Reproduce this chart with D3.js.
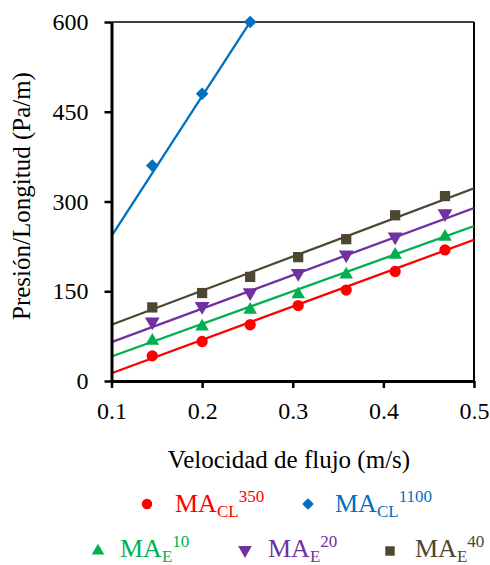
<!DOCTYPE html>
<html><head><meta charset="utf-8">
<script src="https://cdn.jsdelivr.net/npm/d3@7"></script>
<style>body{margin:0;background:#fff}svg{display:block}</style>
</head><body><svg id="c" width="490" height="565"></svg>
<script>
// ---- data ----
const velocity = [0.145, 0.2, 0.253, 0.306, 0.359, 0.413, 0.468];
const seriesNames = ["MA_CL^350", "MA_E^10", "MA_E^20", "MA_E^40", "MA_CL^1100"];
const red350 = [42, 66, 94, 126, 152, 183, 219];
const green10 = [67, 91, 119, 145, 178, 211, 241];
const purple20 = [99, 125, 148, 180, 211, 241, 280];
const brown40 = [123, 147, 174, 207, 237, 277, 309];
const blue1100 = [360, 480, 600];
// fitted trend lines: value at x=0.1 and at x=0.5
const fitAt01 = [13, 41, 65, 94, 242];
const fitAt05 = [236, 259, 289, 322, 1178];
const xTicks = [0.1, 0.2, 0.3, 0.4, 0.5];
const yTicks = [0, 150, 300, 450, 600];

const colors = ["#ff0000", "#00b050", "#7030a0", "#4d4630", "#0070c0"];
const shapes = ["circle", "up", "down", "square", "diamond"];
const values = [red350, green10, purple20, brown40, blue1100];
const SERIF = '"Liberation Serif", "Times New Roman", Tinos, serif';

const svg = d3.select("#c");
const L = 111.5, R = 474, T = 22, B = 381;
const x = d3.scaleLinear().domain([0.1, 0.5]).range([L, R]);
const y = d3.scaleLinear().domain([0, 600]).range([B, T]);

svg.append("defs").append("clipPath").attr("id", "clip")
  .append("rect").attr("x", L).attr("y", T).attr("width", R - L).attr("height", B - T);

// frame top/right
svg.append("line").attr("x1", L).attr("x2", R).attr("y1", T).attr("y2", T).attr("stroke", "#000").attr("stroke-width", 1.6);
svg.append("line").attr("x1", R).attr("x2", R).attr("y1", T).attr("y2", B).attr("stroke", "#000").attr("stroke-width", 2);

function sym(shape, size) {
  if (shape === "circle") return d3.symbol(d3.symbolCircle, size)();
  if (shape === "square") return d3.symbol(d3.symbolSquare, size)();
  if (shape === "diamond") return d3.symbol(d3.symbolSquare, size)();
  return d3.symbol(d3.symbolTriangle, size)();
}
function rot(shape) { return shape === "diamond" ? 45 : shape === "down" ? 180 : 0; }
const sizes = { circle: 100, up: 80, down: 95, square: 105, diamond: 80 };

const plot = svg.append("g").attr("clip-path", "url(#clip)");
values.forEach((vals, i) => {
  const line = d3.line().x(d => x(d[0])).y(d => y(d[1]));
  plot.append("path").datum([[0.1, fitAt01[i]], [0.5, fitAt05[i]]])
    .attr("d", line).attr("fill", "none").attr("stroke", colors[i]).attr("stroke-width", 2.3);
});
values.forEach((vals, i) => {
  svg.append("g").selectAll("path").data(vals).join("path")
    .attr("d", sym(shapes[i], sizes[shapes[i]]))
    .attr("transform", (d, j) => `translate(${x(velocity[j])},${y(d)}) rotate(${rot(shapes[i])})`)
    .attr("fill", colors[i]);
});

// axes
const ya = svg.append("g").attr("transform", `translate(${L},0)`)
  .call(d3.axisLeft(y).tickValues(yTicks).tickSize(7).tickSizeOuter(0).tickPadding(16).tickFormat(d3.format("d")));
const xa = svg.append("g").attr("transform", `translate(0,${B})`)
  .call(d3.axisBottom(x).tickValues(xTicks).tickSize(7).tickSizeOuter(0).tickPadding(14).tickFormat(d3.format(".1f")));
[ya, xa].forEach(a => {
  a.attr("font-family", null);
  a.select(".domain").attr("stroke-width", 3);
  a.selectAll(".tick line").attr("stroke-width", 2.5);
  a.selectAll(".tick text").attr("font-size", 24).style("font-family", SERIF).attr("fill", "#000");
});

svg.append("text").attr("x", 289).attr("y", 468).attr("text-anchor", "middle")
  .style("font-family", SERIF).attr("font-size", 25).text("Velocidad de flujo (m/s)");
svg.append("text").attr("transform", "translate(30,196) rotate(-90)").attr("text-anchor", "middle")
  .style("font-family", SERIF).attr("font-size", 25).text("Presión/Longitud (Pa/m)");

// legend
const legend = [
  { i: 0, mx: 147, my: 504, tx: 175, ty: 512, sub: "CL", sup: "350" },
  { i: 4, mx: 308, my: 504, tx: 335, ty: 512, sub: "CL", sup: "1100" },
  { i: 1, mx: 98, my: 551, tx: 120, ty: 557, sub: "E", sup: "10" },
  { i: 2, mx: 245, my: 550, tx: 268, ty: 557, sub: "E", sup: "20" },
  { i: 3, mx: 390, my: 551, tx: 415, ty: 557, sub: "E", sup: "40" }
];
legend.forEach(l => {
  const sh = shapes[l.i];
  svg.append("path").attr("d", sym(sh, sizes[sh] * 0.85))
    .attr("transform", `translate(${l.mx},${l.my}) rotate(${rot(sh)})`).attr("fill", colors[l.i]);
  const t = svg.append("text").attr("x", l.tx).attr("y", l.ty).style("font-family", SERIF)
    .attr("font-size", 26).attr("fill", colors[l.i]);
  t.append("tspan").text("MA");
  t.append("tspan").attr("font-size", 17).attr("dy", 5).text(l.sub);
  t.append("tspan").attr("font-size", 17).attr("dy", -15).text(l.sup);
});
</script></body></html>
